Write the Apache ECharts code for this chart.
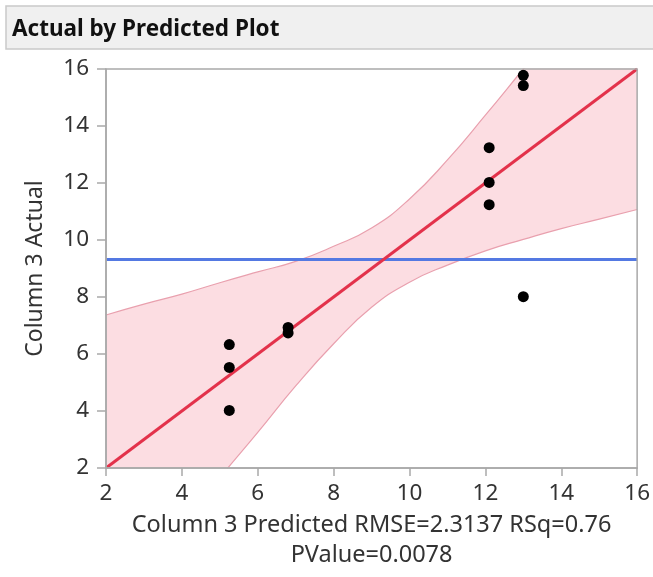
<!DOCTYPE html>
<html>
<head>
    <meta charset="utf-8">
    <script src="https://cdn.jsdelivr.net/npm/echarts@6/dist/echarts.min.js"></script>
    <style>
        html, body { margin: 0; padding: 0; background: #fff; }
    </style>
</head>
<body>
<div id="chart" style="width: 653px; height: 577px;"></div>
<script type="text/javascript">
    // Data
    var predicted = [5.25, 5.25, 5.25, 6.8, 6.8, 12.1, 12.1, 12.1, 13.0, 13.0, 13.0];
    var actual    = [6.33, 5.53, 4.02, 6.93, 6.74, 13.24, 12.02, 11.24, 15.78, 15.42, 8.01];

    // fit line and mean of response
    var fitX = [2, 16];
    var fitY = [2, 16];
    var meanY = 9.32;

    // confidence band edges, read at each integer of predicted
    var bandX     = [2, 3, 4, 5, 6, 7, 8, 9, 10, 11, 12, 13, 14, 15, 16];
    var bandUpper = [7.37, 7.75, 8.1, 8.5, 8.88, 9.25, 9.78, 10.42, 11.44, 12.81, 14.38, 16.0, 17.6, 19.27, 20.93];
    var bandLower = [-3.37, -1.68, 0.0, 1.66, 3.25, 4.88, 6.36, 7.64, 8.52, 9.12, 9.62, 10.02, 10.4, 10.73, 11.07];

    var fontFam = '"Noto Sans", "Open Sans", sans-serif';
    var axisGray = '#a9a9a9';

    var chart = echarts.init(document.getElementById('chart'));
    var option = {
        animation: false,
        graphic: [{
            type: 'rect',
            shape: { x: 6, y: 6, width: 660, height: 43 },
            style: { fill: '#f0f0f0', stroke: '#c9c9c9', lineWidth: 1.5 }
        }, {
            type: 'text',
            left: 12, top: 18,
            style: {
                text: 'Actual by Predicted Plot',
                font: 'bold 22.5px ' + fontFam,
                fill: '#111'
            }
        }],
        grid: {
            left: 106, right: 15, top: 69, bottom: 109,
            show: true, borderColor: axisGray, borderWidth: 1.5, z: 10
        },
        xAxis: {
            type: 'value', min: 2, max: 16, interval: 2, z: 10,
            name: 'Column 3 Predicted RMSE=2.3137 RSq=0.76\nPValue=0.0078',
            nameLocation: 'middle', nameGap: 41,
            nameTextStyle: { fontSize: 23.5, color: '#333', fontFamily: fontFam, lineHeight: 30 },
            axisLine: { show: true, lineStyle: { color: axisGray, width: 1.5 } },
            axisTick: { show: true, length: 8, lineStyle: { color: axisGray, width: 1.5 } },
            axisLabel: { fontSize: 22.5, color: '#333', fontFamily: fontFam, margin: 14 },
            splitLine: { show: false }
        },
        yAxis: {
            type: 'value', min: 2, max: 16, interval: 2, z: 10,
            name: 'Column 3 Actual',
            nameLocation: 'middle', nameGap: 59,
            nameTextStyle: { fontSize: 23, color: '#333', fontFamily: fontFam },
            axisLine: { show: true, lineStyle: { color: axisGray, width: 1.5 } },
            axisTick: { show: true, length: 9, lineStyle: { color: axisGray, width: 1.5 } },
            axisLabel: { fontSize: 22.5, color: '#333', fontFamily: fontFam, margin: 17 },
            splitLine: { show: false }
        },
        series: [{
            // pink fill under the upper edge
            name: 'upper',
            type: 'line',
            data: bandX.map((x, i) => [x, bandUpper[i]]),
            smooth: true,
            symbol: 'none',
            lineStyle: { color: '#e9a0ae', width: 1.2 },
            areaStyle: { color: '#fcdde2', opacity: 1, origin: 'start' },
            z: 1
        }, {
            // white fill under the lower edge cuts the band out
            name: 'lower',
            type: 'line',
            data: bandX.map((x, i) => [x, bandLower[i]]),
            smooth: true,
            symbol: 'none',
            lineStyle: { color: '#e9a0ae', width: 1.2 },
            areaStyle: { color: '#ffffff', opacity: 1, origin: 'start' },
            z: 1
        }, {
            name: 'mean',
            type: 'line',
            data: fitX.map(x => [x, meanY]),
            symbol: 'none',
            lineStyle: { color: '#5479e2', width: 3 },
            z: 2
        }, {
            name: 'fit',
            type: 'line',
            data: fitX.map((x, i) => [x, fitY[i]]),
            symbol: 'none',
            lineStyle: { color: '#e3324b', width: 3 },
            z: 3
        }, {
            name: 'points',
            type: 'scatter',
            data: predicted.map((x, i) => [x, actual[i]]),
            symbolSize: 11,
            itemStyle: { color: '#000', opacity: 1 },
            z: 4
        }]
    };
    chart.setOption(option);
</script>
</body>
</html>
